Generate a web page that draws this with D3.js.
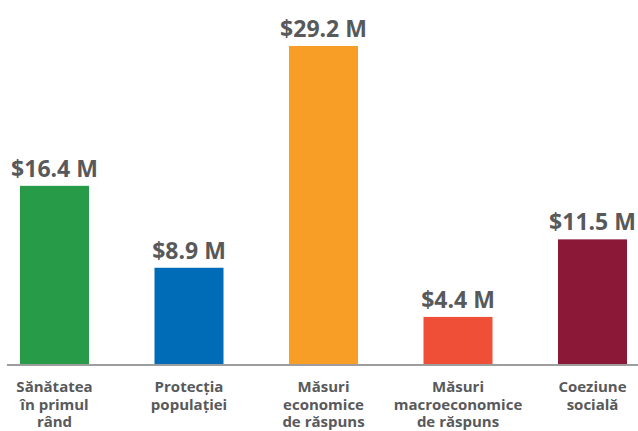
<!DOCTYPE html>
<html>
<head>
<meta charset="utf-8">
<script src="https://cdn.jsdelivr.net/npm/d3@7"></script>
<style>
  body { margin: 0; background: #fff; }
  text { font-family: "Open Sans", sans-serif; font-weight: 700; fill: #58595b; }
</style>
</head>
<body>
<div class="graph"></div>
<script>
const categories = [
  ["Sănătatea", "în primul", "rând"],
  ["Protecția", "populației"],
  ["Măsuri", "economice", "de răspuns"],
  ["Măsuri", "macroeconomice", "de răspuns"],
  ["Coeziune", "socială"]
];
const values = [16.4, 8.9, 29.2, 4.4, 11.5];
const valueLabels = ["$16.4 M", "$8.9 M", "$29.2 M", "$4.4 M", "$11.5 M"];
const colors = ["#279b48", "#006bb6", "#f89d25", "#ef4e37", "#8c1838"];

const width = 638, height = 431;
const baseline = 365;

const svg = d3.select(".graph").append("svg")
  .attr("width", width)
  .attr("height", height);

const x = d3.scaleBand()
  .domain(d3.range(values.length))
  .range([20, 627])
  .paddingInner(0.487)
  .paddingOuter(0);

const y = d3.scaleLinear()
  .domain([0, 29.2])
  .range([baseline, 46]);

svg.selectAll("rect.bar")
  .data(values)
  .enter().append("rect")
    .attr("class", "bar")
    .attr("x", (d, i) => x(i))
    .attr("y", d => y(d))
    .attr("width", x.bandwidth())
    .attr("height", d => baseline - y(d))
    .attr("fill", (d, i) => colors[i]);

svg.selectAll("text.value")
  .data(values)
  .enter().append("text")
    .attr("class", "value")
    .attr("x", (d, i) => x(i) + x.bandwidth() / 2)
    .attr("y", d => y(d) - 9)
    .attr("text-anchor", "middle")
    .style("font-size", "23px")
    .text((d, i) => valueLabels[i]);

// axis line
svg.append("line")
  .attr("x1", 7)
  .attr("x2", width)
  .attr("y1", baseline)
  .attr("y2", baseline)
  .attr("stroke", "#9d9d9d")
  .attr("stroke-width", 2);

const labels = svg.selectAll("text.cat")
  .data(categories)
  .enter().append("text")
    .attr("class", "cat")
    .attr("text-anchor", "middle")
    .style("font-size", "15px")
    .attr("transform", (d, i) => "translate(" + (x(i) + x.bandwidth() / 2) + ",392)");

labels.selectAll("tspan")
  .data(d => d)
  .enter().append("tspan")
    .attr("x", 0)
    .attr("y", (d, i) => i * 17.5)
    .text(d => d);
</script>
</body>
</html>
